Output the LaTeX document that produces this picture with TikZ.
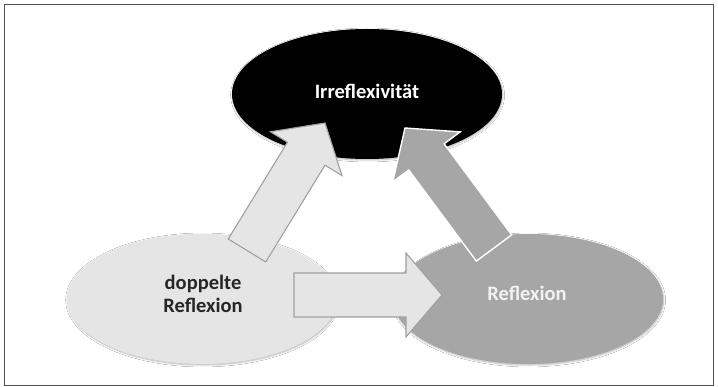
\documentclass[tikz,border=0pt]{standalone}
\usepackage{fontspec}
\setmainfont{Carlito}
\usetikzlibrary{shapes.geometric,calc,shadows.blur}

\definecolor{paleGray}{HTML}{E5E5E5}
\definecolor{midGray}{HTML}{A6A6A6}
\definecolor{edgeGray}{HTML}{A0A0A0}
\definecolor{frameGray}{HTML}{505050}
\definecolor{darkText}{HTML}{262626}

\tikzset{
  bubble/.style={ellipse, inner sep=0pt, minimum width=270pt, minimum height=130pt,
    blur shadow={shadow xshift=0.6pt, shadow yshift=-1pt, shadow blur steps=6, shadow opacity=30}},
  lbl/.style={font=\bfseries\fontsize{20.5}{23}\selectfont, align=center, inner sep=0pt},
  palearrow/.style={fill=paleGray, draw=edgeGray, line width=1.1pt, line join=miter},
  grayarrow/.style={fill=midGray, draw=white, line width=1.4pt, line join=miter},
  frameline/.style={draw=frameGray, line width=1.5pt},
}

% Block arrow: #1 name, #2 tail point, #3 tip point, #4 style
\newcommand\blockarrow[4]{%
  \coordinate (#1-b) at ($(#3)!36pt!(#2)$);
  \path[#4] ($(#2)!22pt!90:(#3)$) -- ($(#1-b)!22pt!90:(#3)$)
    -- ($(#1-b)!42pt!90:(#3)$) -- (#3) -- ($(#1-b)!42pt!-90:(#3)$)
    -- ($(#1-b)!22pt!-90:(#3)$) -- ($(#2)!22pt!-90:(#3)$) -- cycle;
}

\begin{document}
\begin{tikzpicture}[x=1pt, y=-1pt]
  \useasboundingbox (0,0) rectangle (718,387);
  \fill[white] (0,0) rectangle (718,387);
  \draw[frameline] (4.5,4.5) rectangle (713.5,385.5);

  % the three states
  \node[bubble, fill=black] (irr) at (367,94) {};
  \node[bubble, fill=paleGray] (dop) at (202,299) {};
  \node[bubble, fill=midGray] (refl) at (528,299) {};

  \node[lbl, text=white] (irrtext) at (367,91) {Irreflexivität};
  \node[lbl, text=darkText] (doptext) at (203,294) {doppelte\\Reflexion};
  \node[lbl, text=white!95!black] (refltext) at (527,293) {Reflexion};

  % arrow anchors
  \coordinate (dopUp) at (247,250.5);
  \coordinate (irrLeft) at (325,123);
  \coordinate (reflUp) at (494,248);
  \coordinate (irrRight) at (405,128);
  \coordinate (dopRight) at (294,295);
  \coordinate (reflLeft) at (442,295);

  \blockarrow{a1}{dopUp}{irrLeft}{palearrow}
  \blockarrow{a2}{reflUp}{irrRight}{grayarrow}
  \blockarrow{a3}{dopRight}{reflLeft}{palearrow}
\end{tikzpicture}
\end{document}
